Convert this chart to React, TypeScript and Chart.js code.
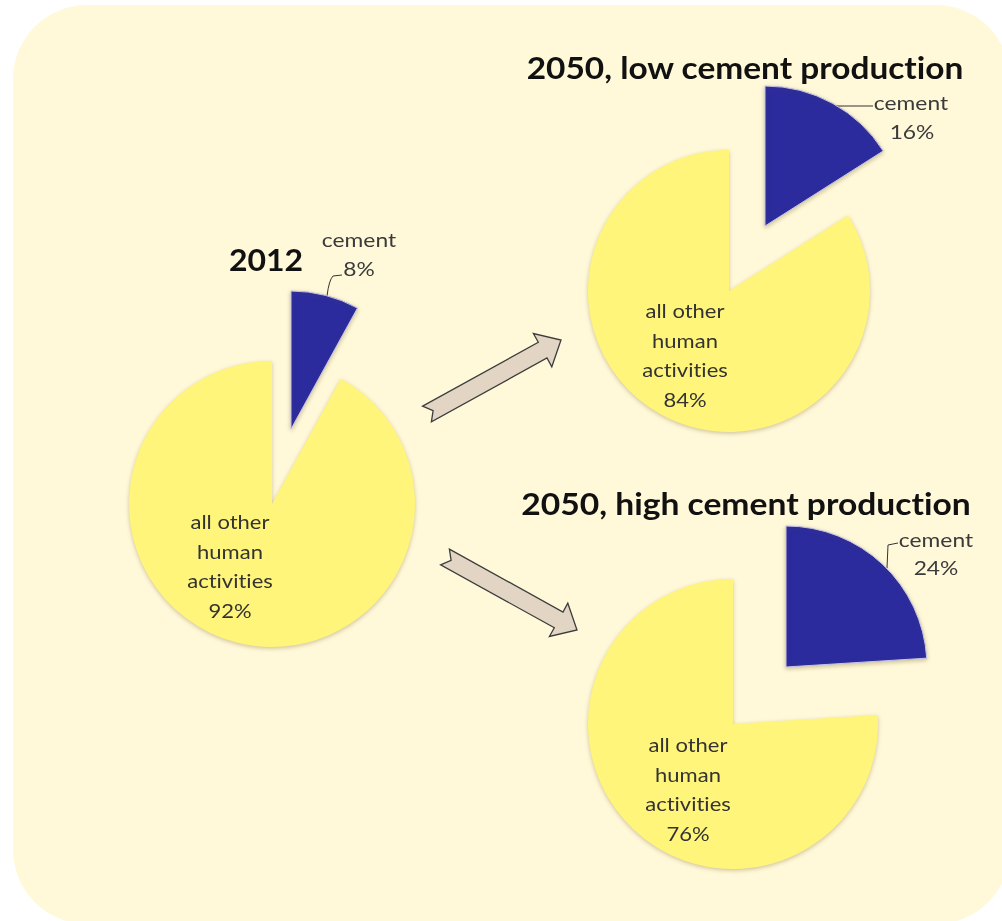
import React, { useEffect, useRef } from "react";
import { Chart, registerables } from "chart.js";

Chart.register(...registerables);

// ---- data ----
const categories = ["cement", "all other human activities"];
const values2012 = [8, 92];
const valuesLow2050 = [16, 84];
const valuesHigh2050 = [24, 76];
const pieTitles = ["2012", "2050, low cement production", "2050, high cement production"];
const insideLines = ["all other", "human", "activities"];

const CEMENT = "#2B2B9E";
const OTHER = "#FFF57A";
const NONE = "rgba(0,0,0,0)";
const FONT = "Lato, 'Open Sans', sans-serif";

const shadowPlugin = {
  id: "softShadow",
  beforeDatasetsDraw(chart: any) {
    const c = chart.ctx;
    c.save();
    c.shadowColor = "rgba(120,95,30,0.35)";
    c.shadowBlur = 4;
    c.shadowOffsetY = 1.5;
  },
  afterDatasetsDraw(chart: any) {
    chart.ctx.restore();
  },
};

const S = 340;

// one Chart.js pie; only the slice at index `show` is painted
function PieLayer({ values, cx, cy, r, show }: { values: number[]; cx: number; cy: number; r: number; show: number }) {
  const ref = useRef<HTMLCanvasElement>(null);
  useEffect(() => {
    const colors = [CEMENT, OTHER].map((c, i) => (i === show ? c : NONE));
    const chart = new Chart(ref.current as HTMLCanvasElement, {
      type: "pie",
      data: {
        labels: categories,
        datasets: [
          {
            data: values,
            backgroundColor: colors,
            borderColor: show === 0 ? ["#C4C4EC", NONE] : [NONE, NONE],
            borderWidth: show === 0 ? [1, 0] : [0, 0],
            radius: r,
          } as any,
        ],
      },
      options: {
        animation: false,
        responsive: false,
        maintainAspectRatio: false,
        events: [],
        layout: { padding: 0 },
        plugins: { legend: { display: false }, tooltip: { enabled: false }, title: { display: false } },
      },
      plugins: [shadowPlugin],
    });
    return () => chart.destroy();
  }, []);
  return (
    <canvas
      ref={ref}
      width={S}
      height={S}
      style={{ position: "absolute", left: cx - S / 2, top: cy - S / 2, width: S, height: S }}
    />
  );
}

// exploded pie: the cement slice is pulled out along its bisector by `shift` px
function ExplodedPie({ values, cx, cy, rOther, rCement, shift }: { values: number[]; cx: number; cy: number; rOther: number; rCement: number; shift: number }) {
  const total = values.reduce((a, b) => a + b, 0);
  const mid = (values[0] / total) * Math.PI; // bisector angle from 12 o'clock
  const dx = shift * Math.sin(mid);
  const dy = -shift * Math.cos(mid);
  return (
    <>
      <PieLayer values={values} cx={cx} cy={cy} r={rOther} show={1} />
      <PieLayer values={values} cx={cx + dx} cy={cy + dy} r={rCement} show={0} />
    </>
  );
}

function Txt({ text, x, base, size, bold, color, sx }: { text: string; x: number; base: number; size: number; bold?: boolean; color?: string; sx?: number }) {
  return (
    <div
      style={{
        position: "absolute",
        left: x,
        top: base - 0.887 * size,
        transform: `translateX(-50%) scaleX(${sx || 1})`,
        fontFamily: FONT,
        fontSize: size,
        fontWeight: bold ? 700 : 400,
        lineHeight: `${size}px`,
        color: color || "#3a3a3a",
        whiteSpace: "nowrap",
        fontVariantLigatures: "none",
      }}
    >
      {text}
    </div>
  );
}

function arrowPoints(tx: number, ty: number, hx: number, hy: number) {
  const w = 9, hw = 19, hl = 21, nd = 7;
  const dx = hx - tx, dy = hy - ty;
  const L = Math.hypot(dx, dy);
  const ux = dx / L, uy = dy / L;
  const px = -uy, py = ux;
  const pts: [number, number][] = [
    [0, -w], [L - hl, -w], [L - hl, -hw], [L, 0], [L - hl, hw], [L - hl, w], [0, w], [nd, 0],
  ];
  return pts.map(([a, b]) => `${(tx + ux * a + px * b).toFixed(1)},${(ty + uy * a + py * b).toFixed(1)}`).join(" ");
}

function InsideLabel({ x, base, pct }: { x: number; base: number; pct: number }) {
  const lines = [...insideLines, `${pct}%`];
  return (
    <>
      {lines.map((t, i) => (
        <Txt key={i} text={t} x={x} base={base + i * 29.5} size={20} sx={1.1} color="#333" />
      ))}
    </>
  );
}

export default function App() {
  return (
    <div style={{ position: "absolute", left: 0, top: 0, width: 1002, height: 921, background: "#fff", overflow: "hidden" }}>
      <div
        style={{
          position: "absolute",
          left: 13,
          top: 5,
          width: 997,
          height: 919,
          borderRadius: 74,
          background: "#FFF9DA",
        }}
      />
      <svg width={1002} height={921} style={{ position: "absolute", left: 0, top: 0 }}>
        <polygon points={arrowPoints(427, 414, 561, 340)} fill="#E3D5C3" stroke="#3d3d3d" strokeWidth={1.3} />
        <polygon points={arrowPoints(445, 557, 577, 630)} fill="#E3D5C3" stroke="#3d3d3d" strokeWidth={1.3} />
        <path d="M327 296 Q329 280 333 276 L342 275" fill="none" stroke="#333" strokeWidth={1} />
        <path d="M835 106 L873 106" fill="none" stroke="#333" strokeWidth={1} />
        <path d="M887 568 L888 545 L898 543" fill="none" stroke="#333" strokeWidth={1} />
      </svg>

      <ExplodedPie values={values2012} cx={272} cy={504} rOther={143} rCement={138} shift={77} />
      <ExplodedPie values={valuesLow2050} cx={729} cy={291} rOther={141} rCement={140} shift={74} />
      <ExplodedPie values={valuesHigh2050} cx={733} cy={724} rOther={145} rCement={141} shift={78} />

      <Txt text={pieTitles[0]} x={266} base={271} size={31} bold color="#111" sx={1.03} />
      <Txt text={pieTitles[1]} x={745} base={79} size={31} bold color="#111" sx={1.078} />
      <Txt text={pieTitles[2]} x={746} base={515} size={31} bold color="#111" sx={1.084} />

      <Txt text={categories[0]} x={359} base={247} size={20} sx={1.14} />
      <Txt text={`${values2012[0]}%`} x={359} base={276} size={20} sx={1.14} />
      <Txt text={categories[0]} x={911} base={110} size={20} sx={1.14} />
      <Txt text={`${valuesLow2050[0]}%`} x={912} base={139} size={20} sx={1.14} />
      <Txt text={categories[0]} x={936} base={547} size={20} sx={1.14} />
      <Txt text={`${valuesHigh2050[0]}%`} x={936} base={575} size={20} sx={1.14} />

      <InsideLabel x={230} base={529} pct={values2012[1]} />
      <InsideLabel x={685} base={318} pct={valuesLow2050[1]} />
      <InsideLabel x={688} base={752} pct={valuesHigh2050[1]} />
    </div>
  );
}
